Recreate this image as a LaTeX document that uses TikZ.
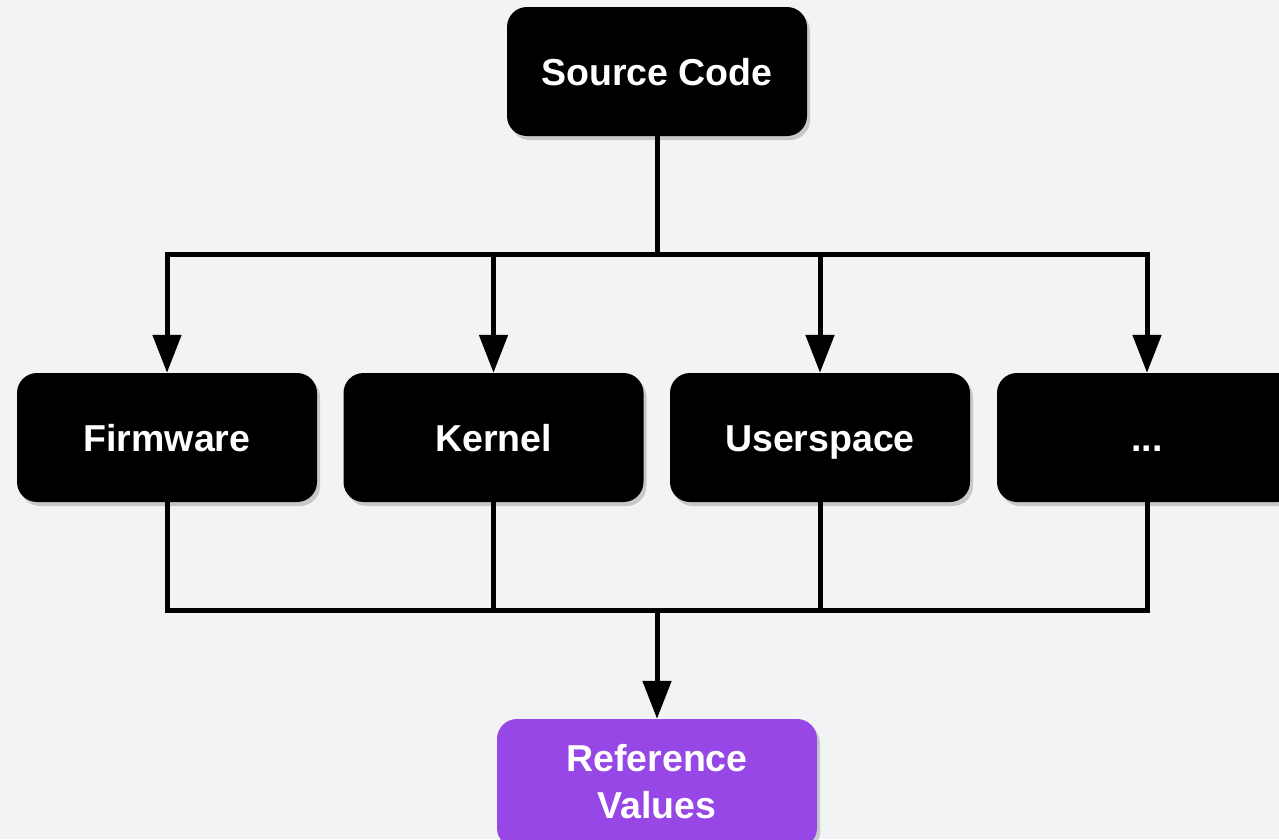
\documentclass[tikz,border=0pt]{standalone}
\usepackage{fontspec}
\setmainfont{Liberation Sans}
\usetikzlibrary{arrows.meta,shadows}
\definecolor{bg}{HTML}{F2F3F5}
\definecolor{purp}{HTML}{9747E6}
\begin{document}
\begin{tikzpicture}[x=1pt,y=-1pt,
  box/.style={rounded corners=20pt, minimum width=300pt, minimum height=129pt, inner sep=0pt,
    text=white, font=\fontsize{37.5}{47}\selectfont\bfseries, align=center,
    drop shadow={shadow xshift=3pt, shadow yshift=-4pt, opacity=0.3, fill=black!60}},
  blk/.style={box, fill=black, text height=27pt, text depth=0pt},
  conn/.style={line width=5pt, line join=miter, line cap=butt},
  bus/.style={conn, line cap=rect},
  arr/.style={conn, -{Triangle[length=38pt,width=28pt]}}]
\fill[bg] (0,0) rectangle (1279,839);
\useasboundingbox (0,0) rectangle (1279,839);
\node[blk] (src) at (657,71.5) {Source Code};
\node[blk] (fw) at (167,437.5) {Firmware};
\node[blk] (kn) at (493.5,437.5) {Kernel};
\node[blk] (us) at (820,437.5) {Userspace};
\node[blk] (dots) at (1147,437.5) {...};
\node[box, fill=purp, minimum width=320pt, text height=69pt, text depth=0pt] (ref) at (657,783.5) {Reference\\Values};
\coordinate (top) at (657,254);
\coordinate (bot) at (657,610);
\draw[conn] (src.south) -- (top);
\draw[bus] (fw.north |- top) -- (dots.north |- top);
\foreach \n in {fw,kn,us,dots} {
  \draw[arr] (\n.north |- top) -- (\n.north);
  \draw[conn] (\n.south) -- (\n.south |- bot);
}
\draw[bus] (fw.south |- bot) -- (dots.south |- bot);
\draw[arr] (bot) -- (ref.north);
\end{tikzpicture}
\end{document}
